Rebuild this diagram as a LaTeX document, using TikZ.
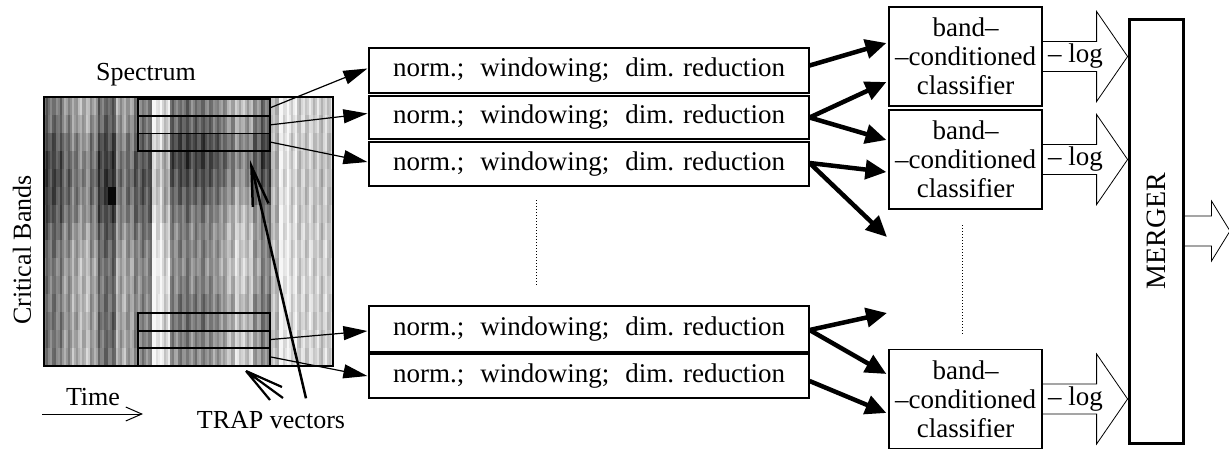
\documentclass[tikz,border=0pt]{standalone}
\usepackage{fontspec}
\setmainfont{Liberation Serif}
\usetikzlibrary{arrows.meta,calc}

% grey levels of the spectrogram (darkness in percent)
\def\colbase{58,55,45,38,32,42,60,62,38,42,50,52,8,20,52,56,52,56,50,45,35,25,30,45,55,28,8,14,20,18,22,20}
\def\rowA{-2,2,10,14,16,14,10,4,0,-4,-4,-4,-2,-3,-5}
\def\rowB{0,8,18,20,15,8,0,-5,-5,-8,-5,0,0,-5,-8}

\tikzset{
  procbox/.style={draw, line width=1.2pt, minimum width=440pt, inner sep=0pt,
                  font=\fontsize{27}{30}\selectfont},
  clsbox/.style={draw, line width=1.2pt, minimum width=153pt, minimum height=99pt,
                 align=center, inner sep=0pt, font=\fontsize{27}{29}\selectfont},
  bandbox/.style={draw, line width=1.8pt, minimum width=132pt, minimum height=17.5pt, inner sep=0pt},
  thinarr/.style={line width=1.2pt, -{Triangle[length=24pt,width=14pt]}},
  thickarr/.style={line width=4.5pt, -{Triangle[length=21pt,width=19pt]}},
  blockarr/.style={line width=0.8pt},
  dotline/.style={line width=1pt, dotted},
}
\newcommand\proctext{norm.;\hspace{16pt}windowing;\hspace{16pt}dim. reduction}

\begin{document}
\begin{tikzpicture}[x=1pt, y=-1pt, font=\fontsize{26}{29}\selectfont]
\useasboundingbox (0,0) rectangle (1229,450);

% --- spectrogram ---
\foreach \i in {0,...,143}{
  \pgfmathtruncatemacro{\k}{\i*2.007/9.03}
  \pgfmathsetmacro{\cb}{{\colbase}[\k] + 10*sin(\i*97.3)}
  \foreach \j in {0,...,14}{
    \pgfmathsetmacro{\ra}{{\rowA}[\j]}
    \pgfmathsetmacro{\rb}{{\rowB}[\j]}
    \pgfmathsetmacro{\rmod}{(\k<14)*\ra + (\k>13)*(\k<25)*\rb + (\k>24)*0.25*\ra}
    \pgfmathsetmacro{\spot}{35*(\k==7)*(\j==5)}
    \pgfmathtruncatemacro{\dk}{max(3,min(97,\cb+\rmod+\spot+4*sin(\i*57.3+\j*113.7)))}
    \fill[black!\dk] (44+\i*2.007, 97+\j*17.933) rectangle ++(2.2,18.2);
  }
}
\draw[line width=1.3pt] (44,97) rectangle (333,366);

% band windows on the spectrogram
\node[bandbox] (r1) at (204,107.5) {};
\node[bandbox] (r2) at (204,124.8) {};
\node[bandbox] (r3) at (204,142.2) {};
\node[bandbox] (r4) at (204,322) {};
\node[bandbox] (r5) at (204,339.5) {};
\node[bandbox] (r6) at (204,357) {};

% labels round the spectrogram
\node[anchor=base] (spec) at (146,80) {Spectrum};
\node[rotate=90] (cb) at (22,250) {Critical Bands};
\node[anchor=base] (time) at (93,405) {Time};
\coordinate (t0) at (42,414);
\coordinate (t1) at (143,414);
\draw[line width=1pt, -{Straight Barb[length=16pt,width=14pt]}] (t0) -- (t1);
\node[anchor=base] (trap) at (271,428) {TRAP vectors};

% pointer into the upper windows
\coordinate (trapend) at (250,160);
\draw[line width=2.5pt, -{Straight Barb[length=40pt,width=16pt]}]
  ($(trap.north)+(35,-9)$) -- (trapend);
% pointer towards the lower windows
\coordinate (tip) at (246,371);
\draw[line width=2.2pt] (tip) -- (282,387) (tip) -- (283,398) (tip) -- (270,400);

% --- per-band processing ---
\node[procbox, minimum height=45pt] (p1) at (589,70.5) {\proctext};
\node[procbox, minimum height=43pt] (p2) at (589,117.5) {\proctext};
\node[procbox, minimum height=44pt] (p3) at (589,164) {\proctext};
\node[procbox, minimum height=46pt] (p4) at (589,329) {\proctext};
\node[procbox, minimum height=44pt] (p5) at (589,376) {\proctext};
\draw[dotline] (536,200) -- (536,285);

\draw[thinarr] (r1.east) -- ($(p1.west)+(-1,-2)$);
\draw[thinarr] (r2.east) -- ($(p2.west)+(-1,-4)$);
\draw[thinarr] (r3.east) -- ($(p3.west)+(-1,-2)$);
\draw[thinarr] (r5.east) -- ($(p4.west)+(-1,2)$);
\draw[thinarr] (r6.east) -- ($(p5.west)+(-1,0)$);

% --- classifiers ---
\node[clsbox] (c1) at (965.5,56.5) {band--\\--conditioned\\classifier};
\node[clsbox] (c2) at (965.5,159.5) {band--\\--conditioned\\classifier};
\node[clsbox] (c3) at (965.5,399) {band--\\--conditioned\\classifier};
\draw[dotline] (962,225) -- (962,335);

\coordinate (e1) at (887,237);
\coordinate (e2) at (887,313);
\draw[thickarr] ($(p1.east)+(0,-5)$) -- ($(c1.west)+(-2,-13.5)$);
\draw[thickarr] (p2.east) -- ($(c1.west)+(-2,25.5)$);
\draw[thickarr] (p2.east) -- ($(c2.west)+(-2,-19.5)$);
\draw[thickarr] ($(p3.east)+(0,-1)$) -- ($(c2.west)+(-2,12.5)$);
\draw[thickarr] ($(p3.east)+(0,-1)$) -- (e1);
\draw[thickarr] ($(p4.east)+(0,1)$) -- (e2);
\draw[thickarr] ($(p4.east)+(0,1)$) -- ($(c3.west)+(-2,-25)$);
\draw[thickarr] ($(p5.east)+(0,5)$) -- ($(c3.west)+(-2,14)$);

% --- block arrows carrying -log outputs ---
\foreach \c in {c1,c2,c3}{
  \draw[blockarr] (\c.east) ++(0,-15) -- ++(54,0) -- ++(0,-30) -- ++(31,45)
     -- ++(-31,45) -- ++(0,-30) -- ++(-54,0);
  \node[font=\fontsize{27}{29}\selectfont] (\c log) at ($(\c.east)+(33,0)$) {-- log};
}

% --- merger ---
\node[draw, line width=3pt, minimum width=54pt, minimum height=424pt, inner sep=0pt]
  (m) at (1156,231) {\rotatebox{90}{\fontsize{28}{30}\selectfont MERGER}};
\draw[blockarr] (m.east) ++(0,-15) -- ++(27,0) -- ++(0,-15) -- ++(18.5,30)
   -- ++(-18.5,30) -- ++(0,-15) -- ++(-27,0);
\end{tikzpicture}
\end{document}
